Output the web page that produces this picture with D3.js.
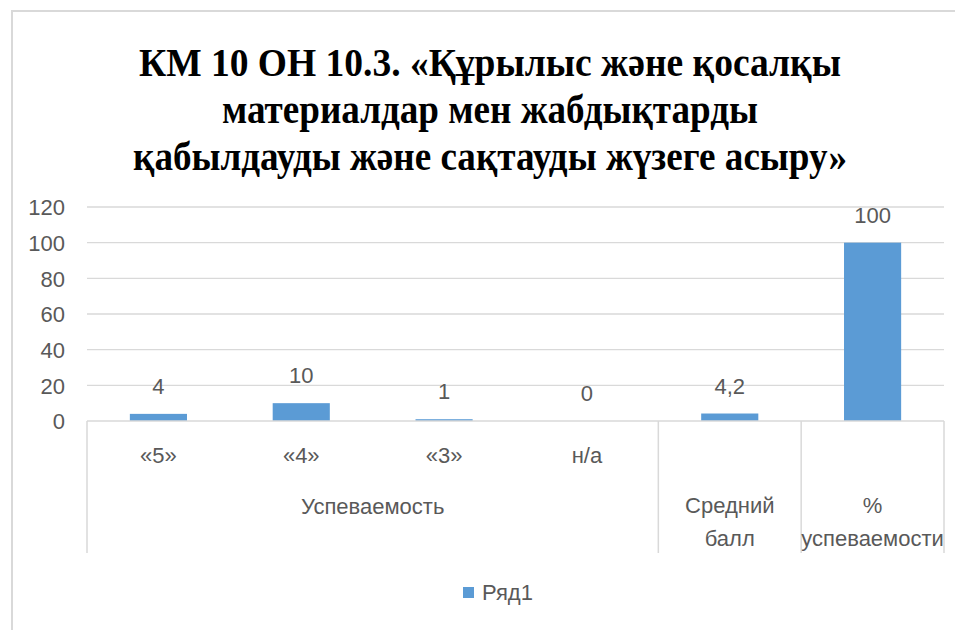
<!DOCTYPE html>
<html>
<head>
<meta charset="utf-8">
<script src="https://cdn.jsdelivr.net/npm/d3@7/dist/d3.min.js"></script>
<style>
  html, body { margin: 0; padding: 0; background: #ffffff; }
  svg { display: block; }
</style>
</head>
<body>
<svg id="chart" width="955" height="630"></svg>
<script>
const titleLines = [
  "КМ 10 ОН 10.3. «Құрылыс және қосалқы",
  "материалдар  мен жабдықтарды",
  "қабылдауды және сақтауды жүзеге асыру»"
];
const categories = ["«5»", "«4»", "«3»", "н/а", "Средний балл", "% успеваемости"];
const categoryLines = [["«5»"], ["«4»"], ["«3»"], ["н/а"], ["Средний", "балл"], ["%", "успеваемости"]];
const groupNames = ["Успеваемость", "Успеваемость", "Успеваемость", "Успеваемость", null, null];
const values = [4, 10, 1, 0, 4.2, 100];
const yTicks = [0, 20, 40, 60, 80, 100, 120];
const seriesName = "Ряд1";

(function () {
const barColor = "#5B9BD5";
const textColor = "#595959";
const gridColor = "#d9d9d9";
const font = "'Liberation Sans', Arial, sans-serif";

const svg = d3.select("#chart");

// outer frame
svg.append("rect").attr("x", 0).attr("y", 0).attr("width", 955).attr("height", 630).attr("fill", "#fff");
svg.append("path")
  .attr("d", "M12,632 L12,11 L957,11")
  .attr("fill", "none").attr("stroke", "#d9d9d9").attr("stroke-width", 2);

// title
const titleWidths = [702, 536, 714];
const titleBase = [76, 123, 170];
titleLines.forEach((t, i) => {
  svg.append("text")
    .attr("x", 490).attr("y", titleBase[i])
    .attr("text-anchor", "middle")
    .attr("font-family", "'Liberation Serif', 'Times New Roman', serif")
    .attr("font-weight", "bold")
    .attr("font-size", 40)
    .attr("fill", "#000")
    .attr("textLength", titleWidths[i])
    .attr("lengthAdjust", "spacingAndGlyphs")
    .text(t);
});

const pLeft = 87, pRight = 944, pTop = 207, pBottom = 421;

const y = d3.scaleLinear().domain([0, 120]).range([pBottom, pTop]);
const x = d3.scaleBand().domain(categories).range([pLeft, pRight]).paddingInner(0.6).paddingOuter(0.3);
const xs = d3.scaleBand().domain(categories).range([pLeft, pRight]);

// gridlines
svg.append("g").selectAll("line").data(yTicks.filter(d => d > 0)).join("line")
  .attr("x1", pLeft).attr("x2", pRight)
  .attr("y1", d => y(d)).attr("y2", d => y(d))
  .attr("stroke", gridColor).attr("stroke-width", 1.3);

// y axis labels
const yAxis = d3.axisLeft(y).tickValues(yTicks).tickSize(0).tickPadding(0);
const gy = svg.append("g").attr("transform", `translate(65,0)`).call(yAxis);
gy.select(".domain").remove();
gy.selectAll("text")
  .attr("font-family", font).attr("font-size", 22).attr("fill", textColor)
  .attr("dy", "0.36em");

// bars
svg.append("g").selectAll("rect").data(values).join("rect")
  .attr("x", (d, i) => x(categories[i]))
  .attr("width", x.bandwidth())
  .attr("y", d => y(d))
  .attr("height", d => y(0) - y(d))
  .attr("fill", barColor);

// data labels
svg.append("g").selectAll("text").data(values).join("text")
  .attr("x", (d, i) => x(categories[i]) + x.bandwidth() / 2)
  .attr("y", d => y(d) - 20)
  .attr("text-anchor", "middle")
  .attr("font-family", font).attr("font-size", 22).attr("fill", textColor)
  .text(d => String(d).replace(".", ","));

// category axis lines
const axisBottom = 553;
svg.append("line").attr("x1", pLeft).attr("x2", pRight).attr("y1", pBottom).attr("y2", pBottom)
  .attr("stroke", gridColor).attr("stroke-width", 1.5);
const sepIdx = [0, 4, 5];
sepIdx.forEach(i => {
  svg.append("line")
    .attr("x1", xs(categories[i])).attr("x2", xs(categories[i]))
    .attr("y1", pBottom).attr("y2", axisBottom)
    .attr("stroke", gridColor).attr("stroke-width", 1.5);
});
svg.append("line").attr("x1", pRight).attr("x2", pRight).attr("y1", pBottom).attr("y2", axisBottom)
  .attr("stroke", gridColor).attr("stroke-width", 1.5);

// category labels
categories.forEach((c, i) => {
  const lines = categoryLines[i];
  const cx = xs(c) + xs.bandwidth() / 2;
  const base = groupNames[i] ? [463] : [513, 546];
  lines.forEach((l, j) => {
    svg.append("text")
      .attr("x", cx).attr("y", base[j])
      .attr("text-anchor", "middle")
      .attr("font-family", font).attr("font-size", 22).attr("fill", textColor)
      .text(l);
  });
});

// group labels
const groups = Array.from(new Set(groupNames.filter(g => g)));
groups.forEach(g => {
  const idx = groupNames.map((n, i) => n === g ? i : -1).filter(i => i >= 0);
  const x0 = xs(categories[idx[0]]);
  const x1 = xs(categories[idx[idx.length - 1]]) + xs.bandwidth();
  svg.append("text")
    .attr("x", (x0 + x1) / 2).attr("y", 514)
    .attr("text-anchor", "middle")
    .attr("font-family", font).attr("font-size", 22).attr("fill", textColor)
    .text(g);
});

// legend
const lg = svg.append("g");
lg.append("rect").attr("x", 463).attr("y", 587).attr("width", 11).attr("height", 11).attr("fill", barColor);
lg.append("text").attr("x", 482).attr("y", 600)
  .attr("font-family", font).attr("font-size", 22).attr("fill", textColor)
  .text(seriesName);
})();
</script>
</body>
</html>
